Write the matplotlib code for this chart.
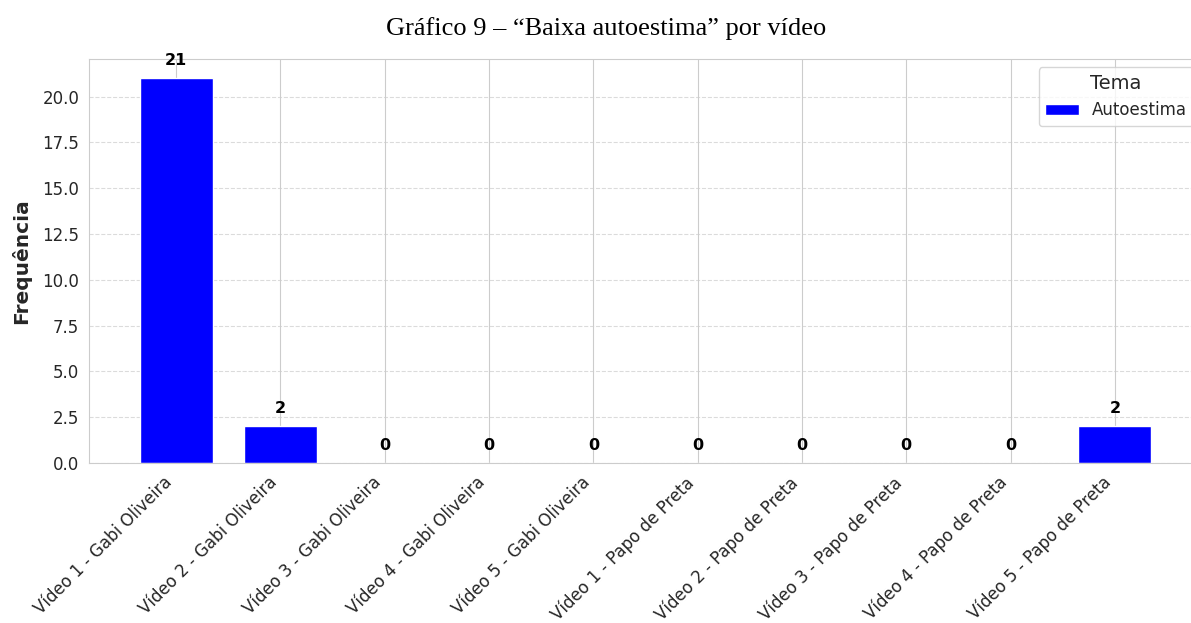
import matplotlib.pyplot as plt
import seaborn as sns

videos = ['Vídeo 1 - Gabi Oliveira', 'Vídeo 2 - Gabi Oliveira', 'Vídeo 3 - Gabi Oliveira',
          'Vídeo 4 - Gabi Oliveira', 'Vídeo 5 - Gabi Oliveira', 'Vídeo 1 - Papo de Preta',
          'Vídeo 2 - Papo de Preta', 'Vídeo 3 - Papo de Preta', 'Vídeo 4 - Papo de Preta',
          'Vídeo 5 - Papo de Preta']
frequencia = [21, 2, 0, 0, 0, 0, 0, 0, 0, 2]

sns.set_style('whitegrid')
plt.rcParams['font.family'] = ['DejaVu Sans']

fig = plt.figure(figsize=(11.91, 6.23), dpi=100)
ax = fig.add_axes([89 / 1191, 1 - 463 / 623, (1202 - 89) / 1191, (463 - 59) / 623])

x = range(len(videos))
ax.bar(x, frequencia, width=0.7, color='blue', label='Autoestima')

# rótulos acima das barras
for xi, v in zip(x, frequencia):
    ax.text(xi, v + 0.55, str(v), ha='center', va='bottom', fontsize=11.5,
            fontweight='bold', color='black')

ax.set_xticks(list(x))
ax.set_xticklabels(videos, rotation=45, ha='right', fontsize=12)
ax.tick_params(axis='x', pad=4)
ax.tick_params(axis='y', labelsize=12)
ax.set_ylabel('Frequência', fontsize=14.5, fontweight='bold', labelpad=8)
ax.grid(axis='y', linestyle='--', alpha=0.7)
ax.legend(title='Tema', loc='upper right', fontsize=12, title_fontsize=14)

fig.text(606 / 1191, 1 - 29 / 623, 'Gráfico 9 – “Baixa autoestima” por vídeo',
         ha='center', va='center', fontsize=19, family='Liberation Serif', color='black')

fig.savefig('out.png', dpi=100)
